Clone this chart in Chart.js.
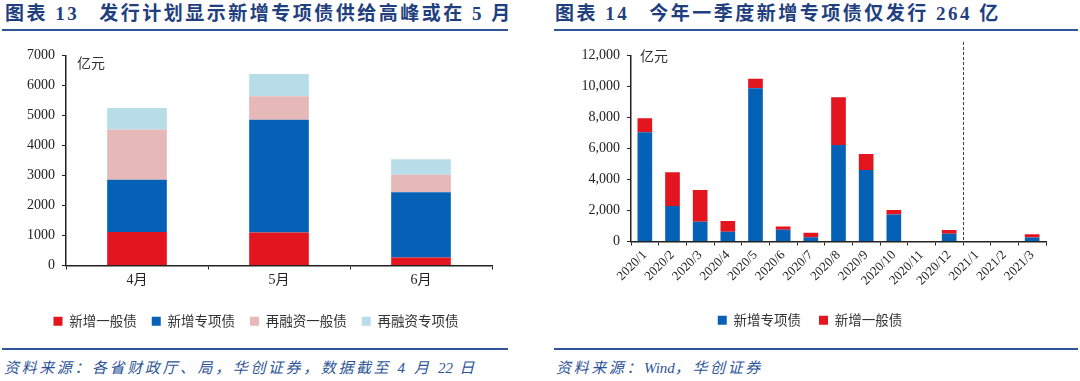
<!DOCTYPE html>
<html>
<head>
<meta charset="utf-8">
<script src="https://cdn.jsdelivr.net/npm/chart.js@4/dist/chart.umd.min.js"></script>
<style>
  body { margin: 0; width: 1080px; height: 381px; background: #fff; position: relative; overflow: hidden; }
  .title { position: absolute; top: -2px; font: bold 19px 'Liberation Serif', 'Noto Sans CJK SC'; color: #1F3F7F; white-space: pre; letter-spacing: 2.5px; }
  .title .gap { margin-left: 20px; }
  .rule { position: absolute; height: 2px; background: #2E5597; }
  .src { position: absolute; top: 356px; font: italic 15px 'Liberation Serif', 'Noto Sans CJK SC'; color: #2E5597; white-space: pre; letter-spacing: 2.6px; }
  .src .lat { letter-spacing: 0; }
  .box { position: absolute; top: 40px; width: 540px; height: 300px; }
</style>
</head>
<body>
<div class="title" style="left:5px">图表 13<span class="gap">发行计划显示新增专项债供给高峰或在 5 月</span></div>
<div class="rule" style="left:2px; top:29px; width:506px"></div>
<div class="title" style="left:555px">图表 14<span class="gap">今年一季度新增专项债仅发行 264 亿</span></div>
<div class="rule" style="left:554px; top:29px; width:524px"></div>

<div class="box" style="left:0"><canvas id="left"></canvas></div>
<div class="box" style="left:540px"><canvas id="right"></canvas></div>

<div class="rule" style="left:2px; top:348px; width:506px"></div>
<div class="rule" style="left:554px; top:348px; width:524px"></div>
<div class="src" style="left:4px">资料来源：各省财政厅、局，华创证券，数据截至 4 月 <span class="lat">22</span> 日</div>
<div class="src" style="left:556px">资料来源：<span class="lat">Wind</span>，华创证券</div>

<script>
// chart 13
const months13 = ['4月', '5月', '6月'];
const newGeneral13 = [1120, 1100, 270];
const newSpecial13 = [1740, 3760, 2170];
const refiGeneral13 = [1670, 780, 580];
const refiSpecial13 = [720, 740, 520];
const yTicks13 = [0, 7000, 1000];

// chart 14
const months14 = ['2020/1', '2020/2', '2020/3', '2020/4', '2020/5', '2020/6', '2020/7', '2020/8',
  '2020/9', '2020/10', '2020/11', '2020/12', '2021/1', '2021/2', '2021/3'];
const newSpecial14 = [7040, 2290, 1270, 630, 9880, 760, 280, 6230, 4610, 1740, 0, 500, 0, 0, 264];
const newGeneral14 = [900, 2170, 2050, 690, 610, 210, 280, 3070, 1030, 290, 0, 240, 0, 0, 210];
const yTicks14 = [0, 12000, 2000];

const RED = '#E3151E', BLUE = '#0461B6', PINK = '#E6B8B7', LIGHTBLUE = '#B7DDE8';
const numFont = "'Liberation Serif', 'Noto Sans CJK SC'";
const cjkFont = "'Noto Sans CJK SC'";

Chart.defaults.animation = false;
Chart.defaults.devicePixelRatio = 1;
Chart.defaults.color = '#222';

// unit label inside the plot, plus the optional dashed divider
const extras = {
  id: 'extras',
  afterDraw(chart, args, opts) {
    const c = chart.ctx, a = chart.chartArea;
    c.save();
    c.font = '14px ' + cjkFont;
    c.fillStyle = '#333';
    c.textBaseline = 'middle';
    c.fillText('亿元', a.left + opts.unitDx, a.top + opts.unitDy);
    if (opts.divider != null) {
      const x = chart.scales.x;
      const px = Math.round((x.getPixelForValue(opts.divider) + x.getPixelForValue(opts.divider + 1)) / 2) + 0.5;
      c.strokeStyle = '#444';
      c.lineWidth = 1;
      c.setLineDash([3, 2]);
      c.beginPath();
      c.moveTo(px, 2);
      c.lineTo(px, a.bottom);
      c.stroke();
    }
    c.restore();
  }
};

function axes(yMin, yMax, yStep, yWidth, xHeight, rotate, comma) {
  return {
    x: {
      stacked: true,
      border: { color: '#222', width: 1.5 },
      grid: { display: true, drawOnChartArea: false, drawTicks: true, tickLength: 4, color: '#222', offset: true },
      ticks: {
        font: { family: numFont, size: rotate ? 13 : 14 },
        color: '#222',
        maxRotation: rotate ? 45 : 0,
        minRotation: rotate ? 45 : 0,
        autoSkip: false,
        padding: 2
      },
      afterFit(s) { s.height = xHeight; }
    },
    y: {
      stacked: true,
      min: yMin, max: yMax,
      border: { color: '#222', width: 1.5 },
      grid: { display: true, drawOnChartArea: false, drawTicks: true, tickLength: 4, color: '#222' },
      ticks: {
        stepSize: yStep,
        font: { family: numFont, size: 14 },
        color: '#222',
        padding: 7,
        callback: v => comma ? v.toLocaleString('en-US') : v
      },
      afterFit(s) { s.width = yWidth; }
    }
  };
}

function legend(size, gap) {
  return {
    position: 'bottom',
    labels: {
      boxWidth: 9, boxHeight: 9,
      font: { family: cjkFont, size: size },
      color: '#333',
      padding: gap
    }
  };
}

var ctx = document.getElementById('left').getContext('2d');
var chart13 = new Chart(ctx, {
  type: 'bar',
  data: {
    labels: months13,
    datasets: [
      { label: '新增一般债', data: newGeneral13, backgroundColor: RED },
      { label: '新增专项债', data: newSpecial13, backgroundColor: BLUE },
      { label: '再融资一般债', data: refiGeneral13, backgroundColor: PINK },
      { label: '再融资专项债', data: refiSpecial13, backgroundColor: LIGHTBLUE }
    ]
  },
  options: {
    responsive: true,
    maintainAspectRatio: false,
    layout: { padding: { top: 15, right: 48, bottom: 2, left: 20 } },
    datasets: { bar: { categoryPercentage: 1, barPercentage: 0.42 } },
    scales: axes(yTicks13[0], yTicks13[1], yTicks13[2], 46, 34, false, false),
    plugins: {
      legend: legend(13.5, 15),
      tooltip: { enabled: false },
      extras: { unitDx: 11, unitDy: 7 }
    }
  },
  plugins: [extras]
});

var ctx = document.getElementById('right').getContext('2d');
var chart14 = new Chart(ctx, {
  type: 'bar',
  data: {
    labels: months14,
    datasets: [
      { label: '新增专项债', data: newSpecial14, backgroundColor: BLUE },
      { label: '新增一般债', data: newGeneral14, backgroundColor: RED }
    ]
  },
  options: {
    responsive: true,
    maintainAspectRatio: false,
    layout: { padding: { top: 15, right: 34, bottom: 3, left: 34 } },
    datasets: { bar: { categoryPercentage: 1, barPercentage: 0.53 } },
    scales: axes(yTicks14[0], yTicks14[1], yTicks14[2], 57, 54, true, true),
    plugins: {
      legend: legend(13.5, 18),
      tooltip: { enabled: false },
      extras: { unitDx: 9, unitDy: 0, divider: 11 }
    }
  },
  plugins: [extras]
});
</script>
</body>
</html>
